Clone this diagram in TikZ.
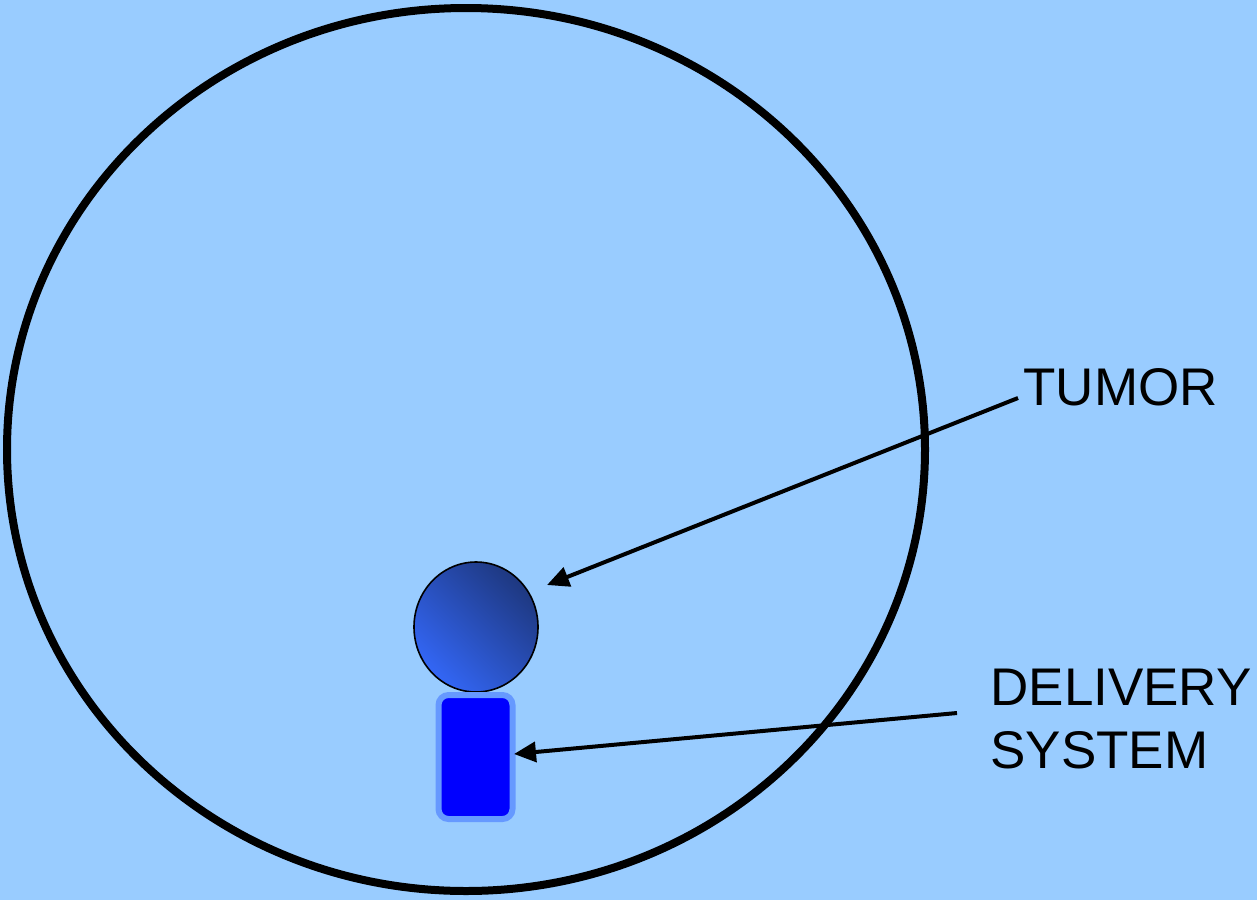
\documentclass[tikz,border=0pt]{standalone}
\usepackage{fontspec}
\setmainfont{Liberation Sans}
\usetikzlibrary{shapes.geometric, arrows.meta, positioning, calc}
\definecolor{skyback}{RGB}{153,204,255}
\definecolor{tumorlight}{RGB}{51,102,245}
\definecolor{tumordark}{RGB}{30,56,128}
\definecolor{capsuleglow}{RGB}{102,153,255}

\begin{document}
\begin{tikzpicture}[
    x=0.5pt, y=-0.5pt,
    body/.style={ellipse, draw=black, line width=4pt, minimum width=459pt, minimum height=441.5pt, inner sep=0pt},
    tumor_ball/.style={ellipse, draw=black, line width=0.8pt, minimum width=62pt, minimum height=65pt, inner sep=0pt, shading=axis, bottom color=tumorlight, top color=tumordark, shading angle=-45},
    capsule/.style={rectangle, draw=capsuleglow, line width=3pt, fill=blue, rounded corners=5pt, minimum width=37pt, minimum height=62pt, inner sep=0pt},
    label_text/.style={font=\fontsize{26.5pt}{31.5pt}\selectfont, align=left, inner sep=0pt},
    arr/.style={-{Triangle[length=11pt, width=10pt]}, line width=2pt, draw=black}
]
\fill[skyback] (0,0) rectangle (1257,900);
\useasboundingbox (0,0) rectangle (1257,900);

\node[body] (head) at (466,449.5) {};
\node[tumor_ball] (tumor) at (476,627) {};
\node[capsule] (delivery) at (475.5,757) {};

\node[label_text, anchor=base west] (tumorlabel) at (1023,405) {TUMOR};
\node[label_text, anchor=base west] (deliverylabel) at (990,768) {DELIVERY\\SYSTEM};

\coordinate (tumorfrom) at (1018,398);
\coordinate (tumortip) at (547,585);
\coordinate (deliveryfrom) at (957,713);
\coordinate (deliverytip) at (514,754);

\draw[arr] (tumorfrom) -- (tumortip);
\draw[arr] (deliveryfrom) -- (deliverytip);

\end{tikzpicture}
\end{document}
